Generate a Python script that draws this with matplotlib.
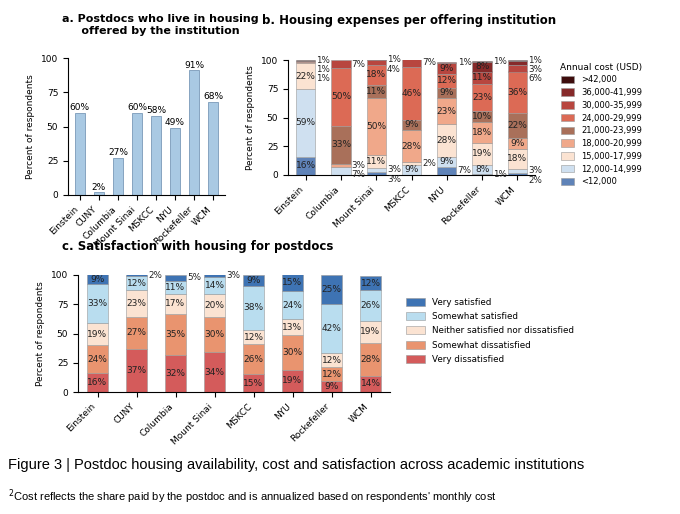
import matplotlib.pyplot as plt
import numpy as np
from matplotlib.patches import Patch

inst_a = ["Einstein","CUNY","Columbia","Mount Sinai","MSKCC","NYU","Rockefeller","WCM"]
vals_a = [60,2,27,60,58,49,91,68]

inst_b = ["Einstein","Columbia","Mount Sinai","MSKCC","NYU","Rockefeller","WCM"]
cost_cats = ["<12,000","12,000-14,999","15,000-17,999","18,000-20,999","21,000-23,999",
             "24,000-29,999","30,000-35,999","36,000-41,999",">42,000"]
cost_vals = {
 "Einstein":    [16,59,22,1,0,1,0,0,1],
 "Columbia":    [0,7,0,3,33,50,7,0,0],
 "Mount Sinai": [3,3,11,50,11,18,4,1,0],
 "MSKCC":       [0,9,2,28,9,46,7,0,0],
 "NYU":         [7,9,28,23,9,12,9,1,0],
 "Rockefeller": [1,8,19,18,10,23,11,8,1],
 "WCM":         [2,3,18,9,22,36,6,3,1],
}
cost_colors = ["#5f83b8","#cfe0f0","#fbe3d2","#f0a88a","#a9705a","#dc6a55","#b8463f","#862a2a","#3e0d0d"]

inst_c = inst_a
sat_cats = ["Very dissatisfied","Somewhat dissatisfied","Neither satisfied nor dissatisfied","Somewhat satisfied","Very satisfied"]
sat_vals = {
 "Einstein":[16,24,19,33,9],"CUNY":[37,27,23,12,2],"Columbia":[32,35,17,11,5],
 "Mount Sinai":[34,30,20,14,3],"MSKCC":[15,26,12,38,9],"NYU":[19,30,13,24,15],
 "Rockefeller":[9,12,12,42,25],"WCM":[14,28,19,26,12],
}
sat_colors = ["#d45b5b","#e9946f","#fbe3d2","#b9ddef","#3e73b3"]

fig = plt.figure(figsize=(6.8,5.14), dpi=100)
W,H = 680,514
def ax_at(x0,y0,x1,y1):
    return fig.add_axes([x0/W, 1-y1/H, (x1-x0)/W, (y1-y0)/H])

def style(ax):
    for s in ["top","right"]:
        ax.spines[s].set_visible(False)
    ax.set_ylim(0,100); ax.set_yticks([0,25,50,75,100])
    ax.tick_params(labelsize=6.5)
    ax.set_ylabel("Percent of respondents", fontsize=6.5)

# Panel a
ax = ax_at(68,58,225,195)
x = np.arange(len(inst_a))
ax.bar(x, vals_a, width=0.5, color="#a9c9e3", edgecolor="#7a9ab8", linewidth=0.6)
for xi,v in zip(x,vals_a):
    ax.text(xi, v+2, f"{v}%", ha="center", fontsize=6.5)
style(ax)
ax.set_xticks(x); ax.set_xticklabels(inst_a, rotation=45, ha="right", fontsize=6.5)
fig.text(62/W, 1-14/H, "a. Postdocs who live in housing\n     offered by the institution", fontsize=8, fontweight="bold", va="top")

def stacked(ax, insts, data, colors, thresh, width=0.55, gap=7):
    x = np.arange(len(insts))
    for i,name in enumerate(insts):
        bottom = 0
        small = []
        for j,v in enumerate(data[name]):
            if v > 0:
                ax.bar(i, v, bottom=bottom, width=width, color=colors[j], edgecolor="#999999", linewidth=0.4)
                if v >= thresh:
                    ax.text(i, bottom+v/2, f"{v}%", ha="center", va="center", fontsize=6.5, color="#222222")
                else:
                    small.append([bottom+v/2, v])
            bottom += v
        # spread small labels (top-down)
        small.sort(key=lambda s: -s[0])
        prev = 108
        for s in small:
            y = min(s[0], prev-gap)
            s[0] = y; prev = y
        prev = -100
        for s in reversed(small):
            if s[0] < prev+gap: s[0] = prev+gap
            prev = s[0]
        for y,v in small:
            ax.text(i+width/2+0.03, y, f"{v}%", ha="left", va="center", fontsize=6.3, color="#222222", clip_on=False)
    style(ax)
    ax.set_xticks(x); ax.set_xticklabels(insts, rotation=45, ha="right", fontsize=6.5)
    ax.set_xlim(-0.5, len(insts)-0.5)

# Panel b
ax = ax_at(288,60,535,175)
stacked(ax, inst_b, cost_vals, cost_colors, 8, width=0.55, gap=8)
fig.text(262/W, 1-14/H, "b. Housing expenses per offering institution", fontsize=8.5, fontweight="bold", va="top")
h = [Patch(facecolor=c, edgecolor="#999999", linewidth=0.4) for c in cost_colors][::-1]
fig.legend(h, cost_cats[::-1], title="Annual cost (USD)", loc="upper left", bbox_to_anchor=(553/W, 1-55/H),
           fontsize=6, title_fontsize=6.5, frameon=False, handlelength=1.6, handleheight=1.0, labelspacing=0.45)

# Panel c
ax = ax_at(78,275,390,392)
stacked(ax, inst_c, sat_vals, sat_colors, 6, width=0.55)
fig.text(62/W, 1-240/H, "c. Satisfaction with housing for postdocs", fontsize=8.5, fontweight="bold", va="top")
h = [Patch(facecolor=c, edgecolor="#999999", linewidth=0.4) for c in sat_colors][::-1]
fig.legend(h, sat_cats[::-1], loc="upper left", bbox_to_anchor=(398/W, 1-290/H),
           fontsize=6.3, frameon=False, handlelength=2.2, handleheight=1.0, labelspacing=0.6)

fig.text(8/W, 1-465/H, "Figure 3 | Postdoc housing availability, cost and satisfaction across academic institutions",
         fontsize=10.5, va="center", family="Liberation Sans")
fig.text(8/W, 1-497/H, "$^2$Cost reflects the share paid by the postdoc and is annualized based on respondents' monthly cost",
         fontsize=8, va="center", family="Liberation Sans")
fig.savefig("out.png", dpi=100)
